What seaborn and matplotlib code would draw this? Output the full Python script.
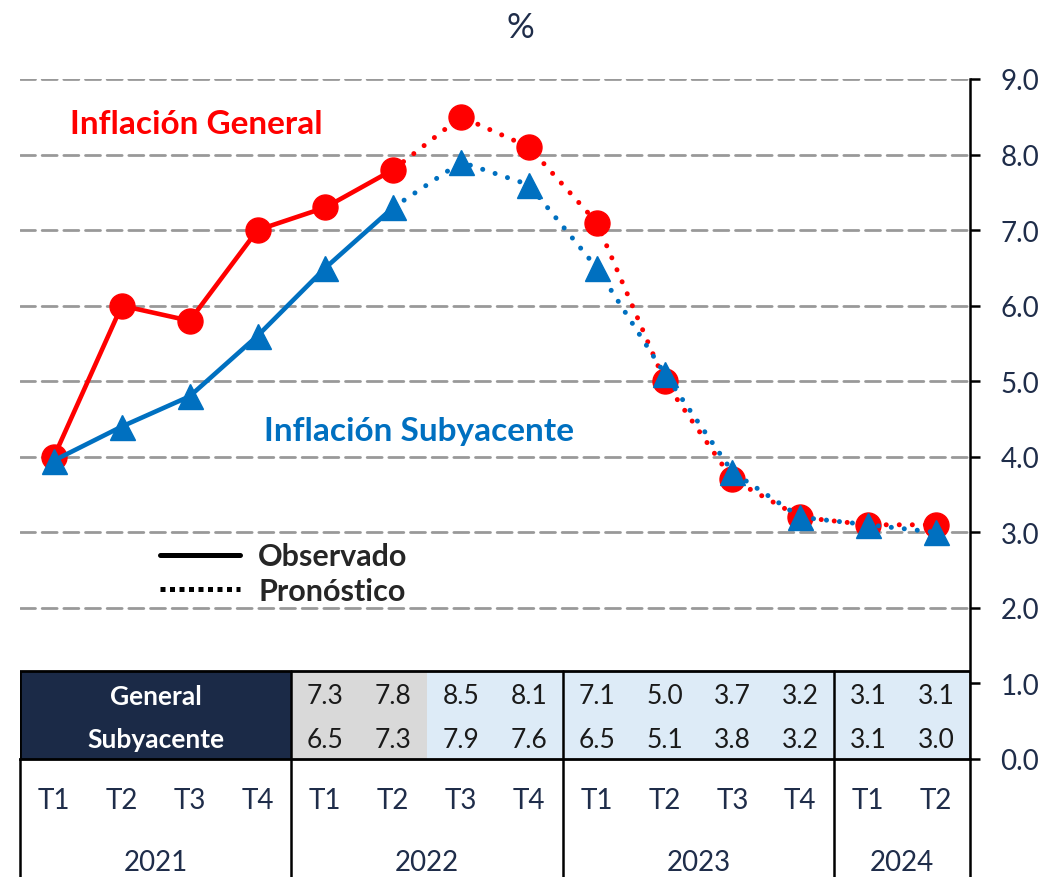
import numpy as np
import pandas as pd
import matplotlib.pyplot as plt
from matplotlib.lines import Line2D
from matplotlib.patches import Rectangle
import matplotlib.transforms as mtransforms
import seaborn as sns

# datos
anios = ['2021', '2022', '2023', '2024']
trimestres = ['T1', 'T2', 'T3', 'T4', 'T1', 'T2', 'T3', 'T4',
              'T1', 'T2', 'T3', 'T4', 'T1', 'T2']
general = [4.0, 6.0, 5.8, 7.0, 7.3, 7.8, 8.5, 8.1, 7.1, 5.0, 3.7, 3.2, 3.1, 3.1]
subyacente = [3.95, 4.4, 4.8, 5.6, 6.5, 7.3, 7.9, 7.6, 6.5, 5.1, 3.8, 3.2, 3.1, 3.0]
ultimo_obs = 5          # 2022 T2 es el ultimo dato observado
primera_tabla = 4       # la tabla muestra desde 2022 T1

ROJO = '#ff0000'
AZUL = '#0070c0'
NAVY = '#1b2a47'
TXT = '#1f2d4a'
GRIS = '#d9d9d9'
CELESTE = '#ddebf7'

sns.set_style('white')
plt.rcParams['font.family'] = ['Lato', 'DejaVu Sans']
plt.rcParams['lines.dash_capstyle'] = 'round'

x = np.arange(len(trimestres))
df = pd.DataFrame({'x': x, 'general': general, 'subyacente': subyacente})
obs = df[df['x'] <= ultimo_obs]
pron = df[df['x'] >= ultimo_obs]

fig = plt.figure(figsize=(10.59, 8.78), dpi=100)
ax = fig.add_axes([20 / 1059, 118 / 878, 950 / 1059, 680 / 878])

punteado = (0, (0.01, 2.6))

# Inflacion general
sns.lineplot(data=pron, x='x', y='general', color=ROJO, lw=3.6,
             linestyle=punteado, ax=ax, zorder=3)
sns.lineplot(data=obs, x='x', y='general', color=ROJO, lw=3.3, ax=ax, zorder=3)
ax.plot(df['x'], df['general'], ls='none', marker='o', ms=18,
        color=ROJO, zorder=4)

# Inflacion subyacente
sns.lineplot(data=pron, x='x', y='subyacente', color=AZUL, lw=3.6,
             linestyle=punteado, ax=ax, zorder=5)
sns.lineplot(data=obs, x='x', y='subyacente', color=AZUL, lw=3.3, ax=ax, zorder=5)
ax.plot(df['x'], df['subyacente'], ls='none', marker='^', ms=18,
        color=AZUL, zorder=6)

ax.set_xlim(-0.5, len(trimestres) - 0.5)
ax.set_ylim(0, 9)
ax.set_xlabel('')
ax.set_ylabel('')

# rejilla
for v in range(2, 10):
    ax.axhline(v, color='#999999', lw=2, ls=(0, (5.4, 2.4)), zorder=1)

# eje y a la derecha
ax.yaxis.tick_right()
ax.set_yticks(np.arange(0, 10, 1))
ax.set_yticklabels([f'{v:.1f}' for v in range(10)])
ax.tick_params(axis='y', direction='out', length=7, width=1.8, pad=15,
               labelsize=20, labelcolor=TXT, color='black')
for s in ['top', 'left']:
    ax.spines[s].set_visible(False)
ax.spines['right'].set_color('black')
ax.spines['right'].set_linewidth(1.8)
ax.spines['bottom'].set_color('black')
ax.spines['bottom'].set_linewidth(2)

# eje x: trimestres
ax.set_xticks(x)
ax.set_xticklabels(trimestres)
ax.tick_params(axis='x', length=0, pad=20, labelsize=20, labelcolor=TXT)

trans = mtransforms.blended_transform_factory(ax.transData, ax.transAxes)
limites = [-0.5, 3.5, 7.5, 11.5, 13.5]
for xb in limites:
    ax.plot([xb, xb], [0, -0.3], color='black', lw=1.8,
            transform=trans, clip_on=False)
for i, a in enumerate(anios):
    centro = (limites[i] + limites[i + 1]) / 2
    ax.text(centro, -0.152, a, transform=trans, ha='center', va='center',
            fontsize=20, color=TXT)

# tabla con valores
tope = 1.17
fila_g = 0.84
fila_s = 0.26
ax.add_patch(Rectangle((-0.5, 0), primera_tabla, tope, facecolor=NAVY,
                       edgecolor='none', zorder=7))
ax.add_patch(Rectangle((primera_tabla - 0.5, 0), 2, tope, facecolor=GRIS,
                       edgecolor='none', zorder=7))
ax.add_patch(Rectangle((primera_tabla + 1.5, 0), len(x) - primera_tabla - 2,
                       tope, facecolor=CELESTE, edgecolor='none', zorder=7))
ax.add_patch(Rectangle((-0.5, 0), len(x), tope, facecolor='none',
                       edgecolor='black', lw=2, zorder=8))
for xb in limites[1:-1]:
    ax.plot([xb, xb], [0, tope], color='black', lw=1.8, zorder=8)
ax.text(1.5, fila_g, 'General', ha='center', va='center', color='white',
        fontsize=19, fontweight='bold', zorder=9)
ax.text(1.5, fila_s, 'Subyacente', ha='center', va='center', color='white',
        fontsize=19, fontweight='bold', zorder=9)
for i in range(primera_tabla, len(x)):
    ax.text(i, fila_g, f'{general[i]:.1f}', ha='center', va='center',
            fontsize=19, color='#1a1a1a', zorder=9)
    ax.text(i, fila_s, f'{subyacente[i]:.1f}', ha='center', va='center',
            fontsize=19, color='#1a1a1a', zorder=9)

# etiquetas de series
ax.text(0.24, 8.41, 'Inflación General', color=ROJO, fontsize=24,
        fontweight='bold', ha='left', va='center')
ax.text(3.1, 4.35, 'Inflación Subyacente', color=AZUL, fontsize=24,
        fontweight='bold', ha='left', va='center')

# leyenda
handles = [Line2D([], [], color='black', lw=3.6),
           Line2D([], [], color='black', lw=3.6, ls=(0, (1, 0.9)),
                  dash_capstyle='butt')]
ax.legend(handles, ['Observado', 'Pronóstico'], loc='upper left',
          bbox_to_anchor=(145 / 1059, 1 - 528 / 878),
          bbox_transform=fig.transFigure, frameon=False,
          prop={'size': 22, 'weight': 'bold'}, handlelength=2.6,
          handletextpad=0.6, labelspacing=0.22, borderpad=0)

fig.text(520 / 1059, 1 - 28 / 878, '%', ha='center', va='center',
         fontsize=25, color=TXT)

plt.savefig('out.png', dpi=100)
